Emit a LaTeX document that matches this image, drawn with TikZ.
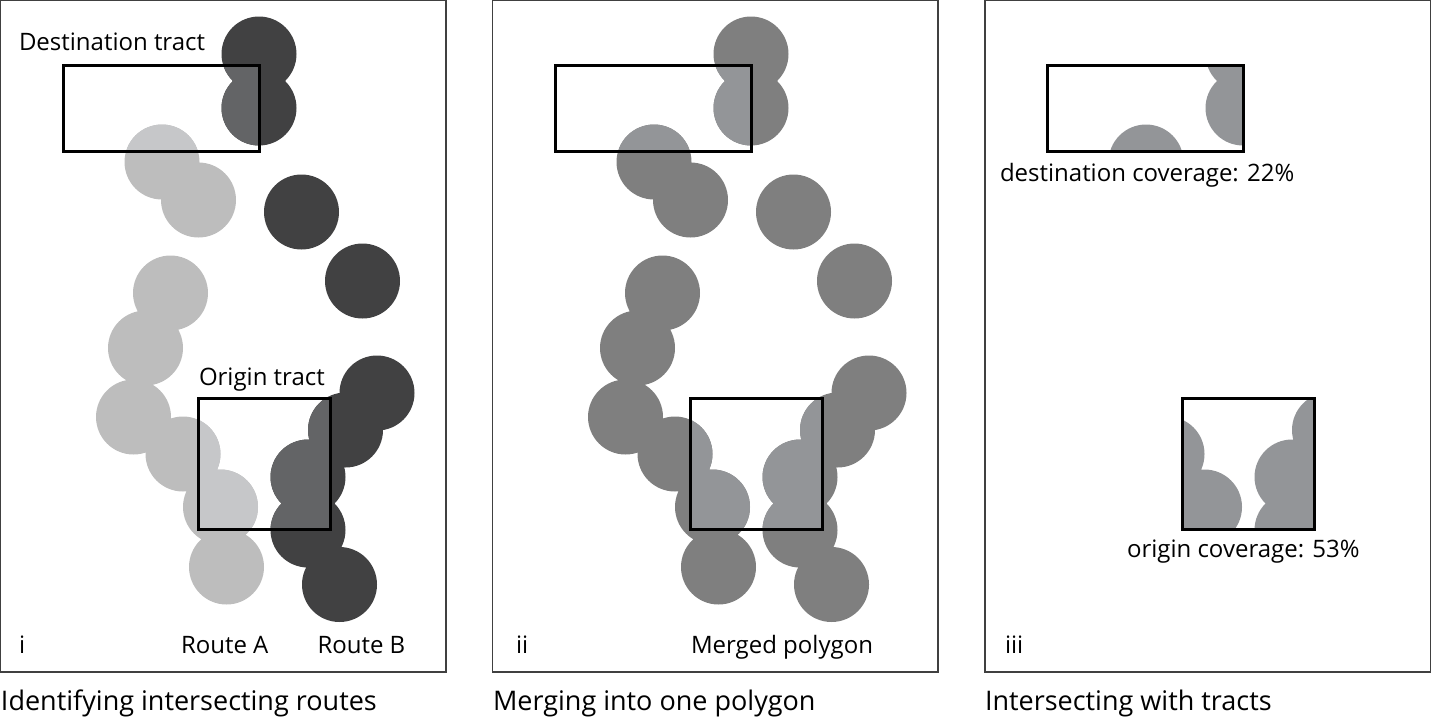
\documentclass[tikz,border=0pt]{standalone}
\usepackage{fontspec}
\setmainfont{Open Sans}
\definecolor{lightroute}{HTML}{BDBDBD}
\definecolor{lightin}{HTML}{C6C7C9}
\definecolor{darkroute}{HTML}{414142}
\definecolor{darkin}{HTML}{636466}
\definecolor{merged}{HTML}{7F7F7F}
\definecolor{mergedin}{HTML}{939598}
\newcommand{\routeA}[1]{%
  \fill[#1] (162,162) circle (37.5pt) (198.5,200) circle (37.5pt) (170.5,293) circle (37.5pt)
   (145.5,348) circle (37.5pt) (133.5,417) circle (37.5pt) (183,454) circle (37.5pt)
   (220.5,507) circle (37.5pt) (226.5,567) circle (37.5pt);}
\newcommand{\routeB}[1]{%
  \fill[#1] (259,54) circle (37.5pt) (259,108) circle (37.5pt) (301.5,212) circle (37.5pt)
   (362.5,281) circle (37.5pt) (377,393) circle (37.5pt) (345.5,430) circle (37.5pt)
   (308,477) circle (37.5pt) (308,530) circle (37.5pt) (339.5,584.5) circle (37.5pt);}
\newcommand{\destclip}{\clip (64,65) rectangle (260,151);}
\newcommand{\origclip}{\clip (198,398) rectangle (330,529);}
\newcommand{\tracts}{\draw[tract] (63.5,65) rectangle (259.7,151);
  \draw[tract] (198,398) rectangle (330,529);}
\tikzset{
  panel/.style={draw=black!75,line width=1.4pt},
  tract/.style={draw=black,line width=3pt,fill=none,line join=miter},
  lab/.style={anchor=base west,inner sep=0pt,outer sep=0pt,font=\fontsize{24}{28}\selectfont,text=black},
  captionlab/.style={anchor=base west,inner sep=0pt,outer sep=0pt,font=\fontsize{27}{32}\selectfont,text=black}
}
\begin{document}
\begin{tikzpicture}[x=1pt,y=-1pt]
\useasboundingbox (0,0) rectangle (1431,718);
% panel frames
\draw[panel] (0.5,0.5) rectangle (446,672);
\draw[panel] (492.5,0.5) rectangle (938,672);
\draw[panel] (985,0.5) rectangle (1430.5,672);
% panel i
\begin{scope}
  \routeA{lightroute}
  \routeB{darkroute}
  \begin{scope}\destclip \routeA{lightin} \routeB{darkin} \end{scope}
  \begin{scope}\origclip \routeA{lightin} \routeB{darkin} \end{scope}
  \tracts
\end{scope}
% panel ii
\begin{scope}[shift={(492,0)}]
  \routeA{merged} \routeB{merged}
  \begin{scope}\destclip \routeA{mergedin} \routeB{mergedin} \end{scope}
  \begin{scope}\origclip \routeA{mergedin} \routeB{mergedin} \end{scope}
  \tracts
\end{scope}
% panel iii
\begin{scope}[shift={(984,0)}]
  \begin{scope}\destclip \routeA{mergedin} \routeB{mergedin} \end{scope}
  \begin{scope}\origclip \routeA{mergedin} \routeB{mergedin} \end{scope}
  \tracts
\end{scope}
% labels
\node[lab] (destlabel) at (19,50) {Destination tract};
\node[lab] (origlabel) at (199,385) {Origin tract};
\node[lab] (routea) at (181,653) {Route A};
\node[lab] (routeb) at (317.5,653) {Route B};
\node[lab] (numi) at (19,653) {i};
\node[lab] (numii) at (516,653) {ii};
\node[lab] (numiii) at (1005,653) {iii};
\node[lab] (mergedlabel) at (691,653) {Merged polygon};
\node[lab] (destcov) at (1000,181) {destination coverage: 22\%};
\node[lab] (origcov) at (1127,557) {origin coverage: 53\%};
\node[captionlab] (capi) at (1,710) {Identifying intersecting routes};
\node[captionlab] (capii) at (493,710) {Merging into one polygon};
\node[captionlab] (capiii) at (985,710) {Intersecting with tracts};
\end{tikzpicture}
\end{document}
